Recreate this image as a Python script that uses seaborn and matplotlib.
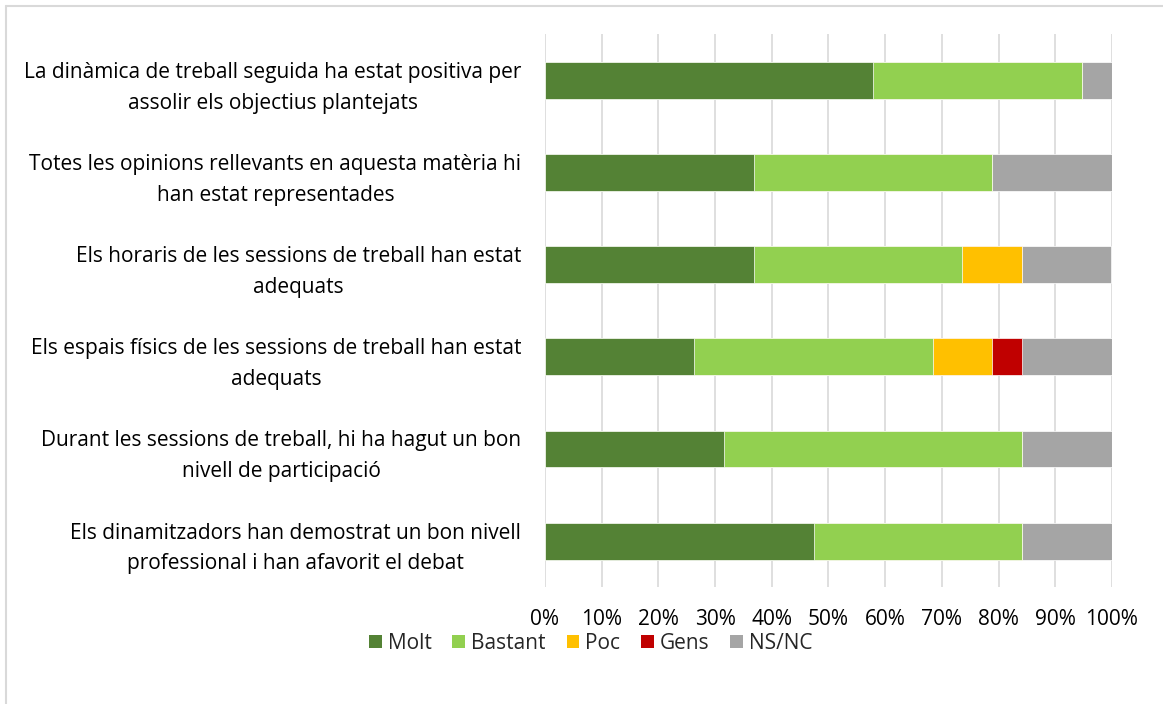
import numpy as np
import pandas as pd
import matplotlib.pyplot as plt
import seaborn as sns
from matplotlib.patches import Patch
from matplotlib.lines import Line2D

# Statements (top to bottom)
questions = [
    'La dinàmica de treball seguida ha estat positiva per\nassolir els objectius plantejats',
    'Totes les opinions rellevants en aquesta matèria hi\nhan estat representades',
    'Els horaris de les sessions de treball han estat\nadequats',
    'Els espais físics de les sessions de treball han estat\nadequats',
    'Durant les sessions de treball, hi ha hagut un bon\nnivell de participació',
    'Els dinamitzadors han demostrat un bon nivell\nprofessional i han afavorit el debat',
]

# Percentages per answer
molt = [57.9, 36.8, 36.8, 26.3, 31.6, 47.4]
bastant = [36.8, 42.1, 36.8, 42.1, 52.6, 36.8]
poc = [0.0, 0.0, 10.5, 10.5, 0.0, 0.0]
gens = [0.0, 0.0, 0.0, 5.3, 0.0, 0.0]
nsnc = [5.3, 21.1, 15.8, 15.8, 15.8, 15.8]

series_names = ['Molt', 'Bastant', 'Poc', 'Gens', 'NS/NC']
colors = ['#548235', '#92D050', '#FFC000', '#C00000', '#A5A5A5']

df = pd.DataFrame({'pregunta': questions, 'Molt': molt, 'Bastant': bastant,
                   'Poc': poc, 'Gens': gens, 'NS/NC': nsnc})
cum = df[series_names].cumsum(axis=1)

sns.set_style('white')
plt.rcParams['font.family'] = ['Open Sans', 'DejaVu Sans']
fs = 15

fig = plt.figure(figsize=(11.63, 7.04), dpi=100)
ax = fig.add_axes([0.4686, 0.166, 0.4875, 0.785])

# draw cumulative totals from the right end back, so each segment shows
for name, col in reversed(list(zip(series_names, colors))):
    sns.barplot(x=cum[name], y=df['pregunta'], orient='h', color=col, saturation=1,
                width=0.4, edgecolor='white', linewidth=0.5, ax=ax, zorder=3)

ax.set_xlim(0, 100)
ax.set_ylim(5.5, -0.5)
ax.set_xticks(np.arange(0, 101, 10))
ax.set_xticklabels([f'{v}%' for v in range(0, 101, 10)], fontsize=fs)
ax.grid(axis='x', color='#D9D9D9', linewidth=1.2, zorder=0)
ax.set_axisbelow(True)
for s in ax.spines.values():
    s.set_visible(False)
ax.set_xlabel('')
ax.set_ylabel('')
ax.tick_params(axis='x', length=0, pad=16)
ax.tick_params(axis='y', length=0, pad=17)
for lbl in ax.get_yticklabels():
    lbl.set_fontsize(fs)
    lbl.set_multialignment('center')
    lbl.set_linespacing(1.6)
    lbl.set_color('#000000')
    lbl.set_y(lbl.get_position()[1])
for lbl in ax.get_xticklabels():
    lbl.set_color('#000000')

handles = [Patch(facecolor=c, edgecolor='none', label=n) for n, c in zip(series_names, colors)]
fig.legend(handles=handles, loc='center', bbox_to_anchor=(0.508, 0.086), ncol=5,
           frameon=False, fontsize=fs, handlelength=0.6, handleheight=0.6,
           handletextpad=0.3, columnspacing=1.0)

# chart frame (only left and top edges visible in the crop)
fig.add_artist(Line2D([0.0055, 0.0055], [0.0, 0.9915], transform=fig.transFigure,
                      color='#D9D9D9', linewidth=1.5))
fig.add_artist(Line2D([0.0055, 1.0], [0.9915, 0.9915], transform=fig.transFigure,
                      color='#D9D9D9', linewidth=1.5))

fig.savefig('out.png', dpi=100)
